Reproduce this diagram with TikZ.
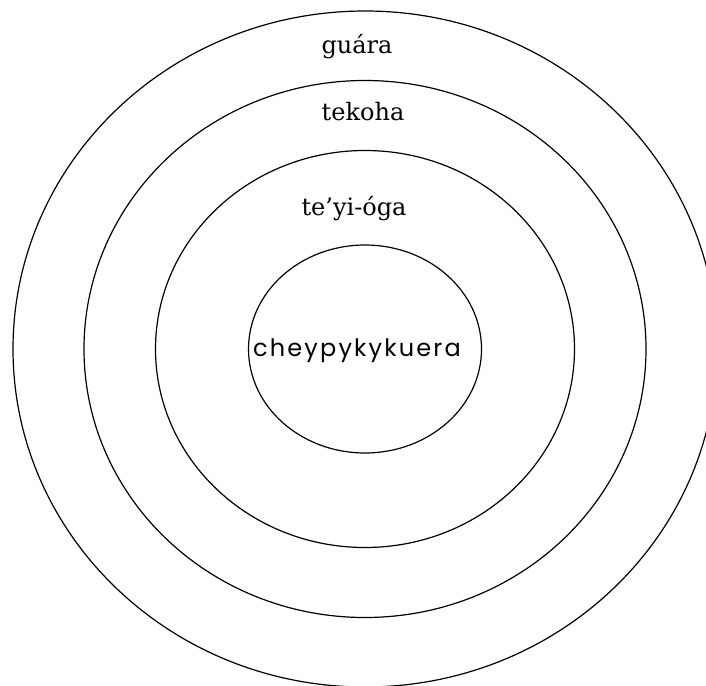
\documentclass[tikz,border=0pt]{standalone}
\usepackage{fontspec}
\setmainfont{DejaVu Serif}
\newfontfamily\coresans[LetterSpace=9]{Poppins}

\begin{document}
\begin{tikzpicture}[x=1pt, y=-1pt,
	ring/.style={draw=black, line width=1.2pt},
	zone/.style={anchor=base, inner sep=0pt, font=\fontsize{24}{27}\selectfont}]
	\useasboundingbox (0,0) rectangle (706,685);
	\clip (0,0) rectangle (706,685);
	\coordinate (c) at (365,349);
	% four rings, outer to inner
	\foreach \rx/\ry in {352/338, 281/268.5, 209.5/198.5, 116.5/104}
		\draw[ring] (c) ellipse [x radius=\rx pt, y radius=\ry pt];
	\node[zone] (guara) at (357,53) {guára};
	\node[zone] (tekoha) at (363,120) {tekoha};
	\node[zone] (teyioga) at (354,215) {te’yi-óga};
	\node[anchor=base, inner sep=0pt, font=\coresans\fontsize{24}{27}\selectfont] (core) at (357,356) {cheypykykuera};
\end{tikzpicture}
\end{document}
